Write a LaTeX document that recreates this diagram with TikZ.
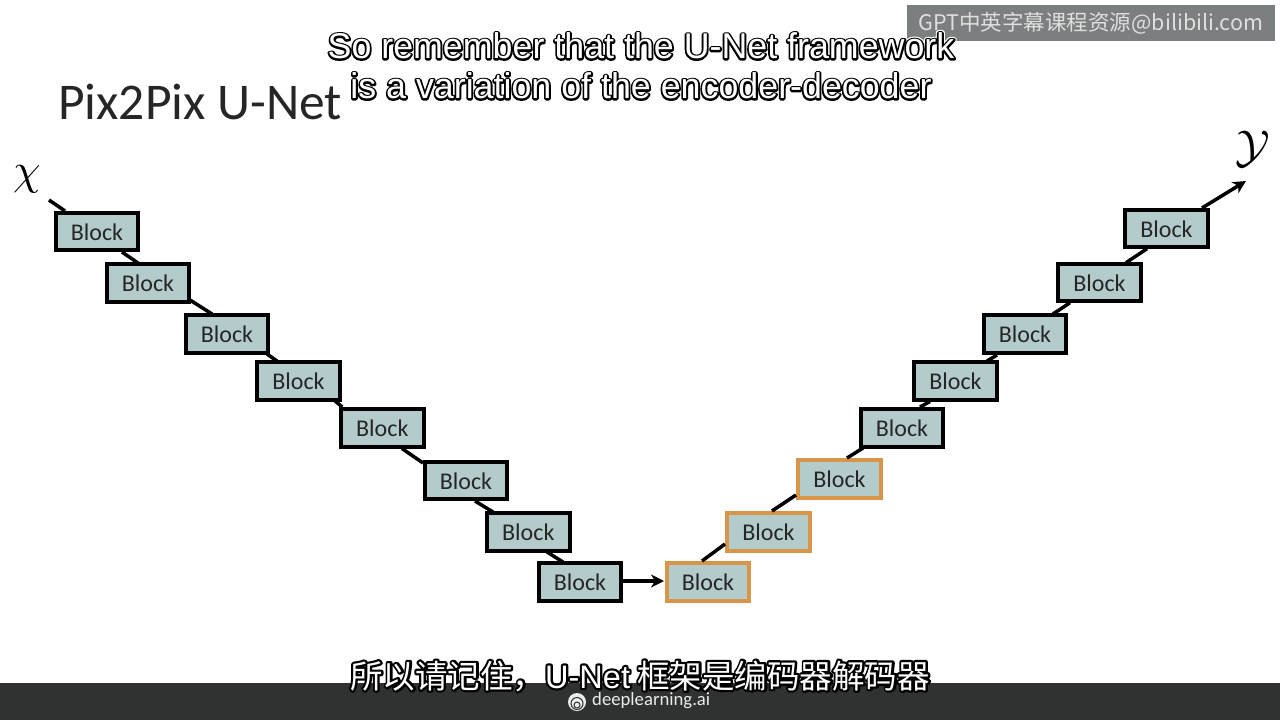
\documentclass[tikz,border=0pt]{standalone}
\usepackage{fontspec}
\usepackage{graphicx}
\setmainfont{Carlito}
\newfontfamily\subfont{Liberation Sans}
\newfontfamily\cjkfont{Noto Sans CJK SC}
\usetikzlibrary{arrows.meta}
\definecolor{blockfill}{HTML}{B3CCCB}
\definecolor{orangeedge}{HTML}{D8954A}
\definecolor{barbg}{HTML}{2F3231}
\definecolor{markbg}{HTML}{7B7F7F}
% stroked text: width, grey level, text
\newcommand{\stroked}[3]{\special{pdf:code q 1 j 2 Tr #1 w #2 G #2 g}#3\special{pdf:code Q}}
\newcommand{\subfontsel}{\subfont\fontsize{35.8}{38}\selectfont}
\newcommand{\cnfontsel}{\cjkfont\fontsize{32.5}{36}\selectfont}
\newcommand{\lk}[4]{\draw[link] ([shift={(#2)}]#1.center) -- ([shift={(#4)}]#3.center);}
\tikzset{
  x=1pt,y=-1pt,
  blockbox/.style={draw=black,line width=4pt,fill=blockfill,minimum width=82.5pt,minimum height=37.5pt,inner sep=0pt,text height=18pt,text depth=0.6pt,font=\fontsize{24}{26}\selectfont,text=black!85},
  orangebox/.style={blockbox,draw=orangeedge},
  link/.style={black,line width=3.5pt},
  arrowlink/.style={link,-{Stealth[length=13pt,width=13pt,inset=4pt]}},
  captext/.style={inner sep=0pt,text=white},
}
\begin{document}
\begin{tikzpicture}
\useasboundingbox (0,0) rectangle (1280,720);
\fill[white] (0,0) rectangle (1280,720);
\fill[barbg] (0,683) rectangle (1280,720);
\coordinate (xin) at (49,200);
\coordinate (yout) at (1246,181);
\node[blockbox] (e1) at (97,231.5) {Block};
\node[blockbox] (e2) at (148,283) {Block};
\node[blockbox] (e3) at (227,334) {Block};
\node[blockbox] (e4) at (298.5,381) {Block};
\node[blockbox] (e5) at (382.3,428) {Block};
\node[blockbox] (e6) at (466,480.5) {Block};
\node[blockbox] (e7) at (528.3,532) {Block};
\node[blockbox] (e8) at (580,582) {Block};
\node[orangebox] (o1) at (708,582) {Block};
\node[orangebox] (o2) at (768.5,532) {Block};
\node[orangebox] (o3) at (839.5,479) {Block};
\node[blockbox] (o4) at (902,428) {Block};
\node[blockbox] (o5) at (955.5,381) {Block};
\node[blockbox] (o6) at (1025,334) {Block};
\node[blockbox] (o7) at (1099.5,282.7) {Block};
\node[blockbox] (o8) at (1166.5,228.7) {Block};
\draw[link] (xin) -- ([shift={(-32,-20.5)}]e1.center);
\lk{e1}{25,20.5}{e2}{-10,-20}
\lk{e2}{42,17}{e3}{-15,-20}
\lk{e3}{40,20}{e4}{-21.5,-20}
\lk{e4}{36.5,20}{e5}{-40,-21}
\lk{e5}{19.7,20.5}{e6}{-43,-17.5}
\lk{e6}{9,20.5}{e7}{-35.3,-20}
\lk{e7}{18.7,20}{e8}{-17,-20}
\draw[arrowlink] ([shift={(43,-1)}]e8.center) -- ([shift={(-44,-1)}]o1.center);
\lk{o1}{-6,-21}{o2}{-43.5,12}
\lk{o2}{3.5,-21}{o3}{-43.5,16}
\lk{o3}{7.5,-21}{o4}{-39,20}
\lk{o4}{18,-21}{o5}{-25.5,20.5}
\lk{o5}{31.5,-20}{o6}{-28,21}
\lk{o6}{28,-20}{o7}{-29.5,20}
\lk{o7}{26.5,-20}{o8}{-19.5,20}
\draw[arrowlink] ([shift={(35.5,-20.7)}]o8.center) -- (yout);
\node[anchor=west,inner sep=0pt,font=\fontsize{51.5}{54}\selectfont,text=black!85] (title) at (58,102) {Pix2Pix U-Net};
\node[inner sep=0pt] (xlab) at (27,179) {\scalebox{4.4}{$\chi$}};
\node[inner sep=0pt] (ylab) at (1253,149) {\scalebox{4.6}{$\mathcal{Y}$}};
\fill[markbg] (907,5) rectangle (1275,41);
\node[inner sep=0pt,text=white!75!markbg,font=\cjkfont\fontsize{21.5}{24}\selectfont] (wm) at (1091,23) {GPT中英字幕课程资源@bilibili.com};
% subtitles: one picture-wide stack in a single node per line
\node[captext,font=\subfontsel] (s1) at (641,46) {\rlap{\stroked{6}{1}{So remember that the U-Net framework}}\rlap{\stroked{3.6}{0}{So remember that the U-Net framework}}So remember that the U-Net framework};
\node[captext,font=\subfontsel] (s2) at (641,86) {\rlap{\stroked{6}{1}{is a variation of the encoder-decoder}}\rlap{\stroked{3.6}{0}{is a variation of the encoder-decoder}}is a variation of the encoder-decoder};
\fill[white!90!barbg] (577,702) circle (9pt);
\draw[barbg,line width=1pt] (577,703.5) circle (6pt);
\draw[barbg,line width=1pt] (577,705) circle (3pt);
\node[inner sep=0pt,anchor=west,text=white!90!barbg,font=\fontsize{18.7}{20}\selectfont] (dl) at (592,701) {deeplearning.ai};
\node[captext,font=\cnfontsel] (s3) at (640,676) {\rlap{\stroked{4.4}{0}{所以请记住，{\subfont U-Net} 框架是编码器解码器}}所以请记住，{\subfont U-Net} 框架是编码器解码器};
\end{tikzpicture}
\end{document}
